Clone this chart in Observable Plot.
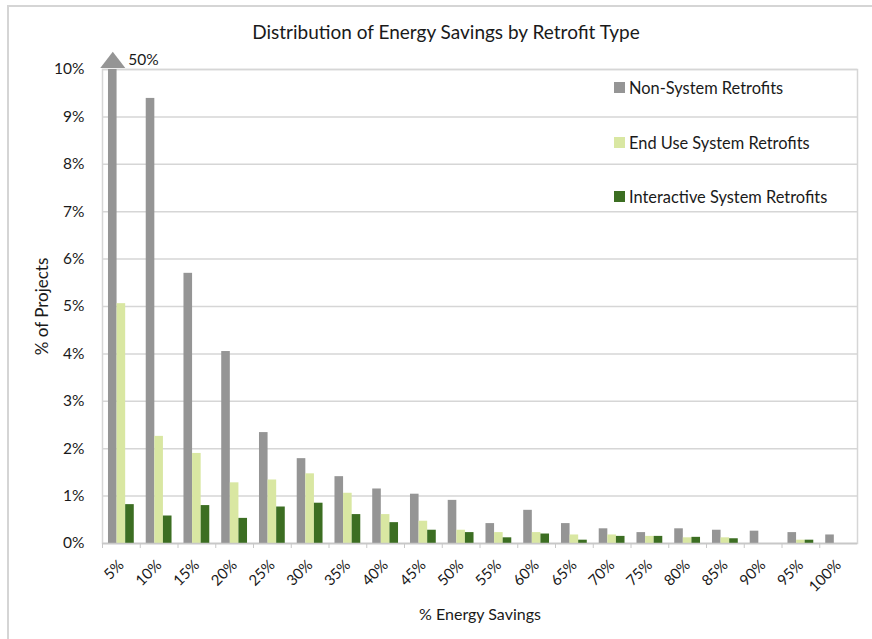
<!DOCTYPE html>
<html>
<head>
<meta charset="utf-8">
<script src="https://cdn.jsdelivr.net/npm/d3@7"></script>
<script src="https://cdn.jsdelivr.net/npm/@observablehq/plot@0.6"></script>
<style>
  html, body { margin: 0; padding: 0; background: #fff; }
  #wrap { position: relative; width: 872px; height: 639px; overflow: hidden; font-family: Lato, "Open Sans", sans-serif; color: #1a1a1a; }
  #border { position: absolute; left: 7px; top: 5px; width: 900px; height: 700px; border: 2px solid #d5d5d5; box-sizing: border-box; pointer-events: none; }
  #title { position: absolute; left: 0; top: 21px; width: 892px; text-align: center; font-size: 19px; line-height: 22px; }
  #chart { position: absolute; left: 0; top: 50px; }
  #legend { position: absolute; left: 614px; top: 0; font-size: 16.4px; }
  .item { position: absolute; left: 0; white-space: nowrap; display: flex; align-items: center; height: 20px; }
  .sw { width: 11px; height: 11px; margin-right: 4px; }
</style>
</head>
<body>
<div id="wrap">
  <div id="border"></div>
  <div id="title">Distribution of Energy Savings by Retrofit Type</div>
  <div id="chart"></div>
  <div id="legend"></div>
</div>
<script>
const categories = ["5%", "10%", "15%", "20%", "25%", "30%", "35%", "40%", "45%", "50%", "55%", "60%", "65%", "70%", "75%", "80%", "85%", "90%", "95%", "100%"];
const series = ["Non-System Retrofits", "End Use System Retrofits", "Interactive System Retrofits"];
const nonSystem   = [50, 9.39, 5.70, 4.05, 2.34, 1.79, 1.41, 1.15, 1.04, 0.91, 0.42, 0.70, 0.42, 0.31, 0.23, 0.31, 0.28, 0.26, 0.23, 0.18];
const endUse      = [5.06, 2.26, 1.90, 1.28, 1.34, 1.47, 1.06, 0.61, 0.47, 0.28, 0.23, 0.23, 0.18, 0.18, 0.15, 0.12, 0.12, 0, 0.07, 0];
const interactive = [0.82, 0.58, 0.80, 0.53, 0.77, 0.85, 0.61, 0.44, 0.28, 0.23, 0.12, 0.20, 0.07, 0.15, 0.15, 0.13, 0.10, 0, 0.07, 0];
const colors = ["#959595", "#d9e7a2", "#3c6e22"];
const yTicks = [0, 1, 2, 3, 4, 5, 6, 7, 8, 9, 10];
const yMax = 10;

const valuesBySeries = [nonSystem, endUse, interactive];
const rows = [];
series.forEach((s, i) => categories.forEach((c, j) => rows.push({cat: c, series: s, value: valuesBySeries[i][j]})));

// bar layout inside each category band (pixel style)
const barW = 8.6, step = 37.75, groupLeft = (step - 3 * barW) / 2;
const insets = series.map((s, i) => ({insetLeft: groupLeft + i * barW, insetRight: step - groupLeft - (i + 1) * barW}));
const grayCenterDx = groupLeft + barW / 2 - step / 2;

// arrow-head symbol (flat base at the anchor point)
const arrowHead = {
  draw(ctx, size) {
    const w = Math.sqrt(size / Math.PI);
    ctx.moveTo(-w, 0);
    ctx.lineTo(w, 0);
    ctx.lineTo(0, -w * 1.3);
    ctx.closePath();
  }
};

const overflow = rows.filter(d => d.value > yMax);

const font = "Lato, 'Open Sans', sans-serif";
const plot = Plot.plot({
  width: 872,
  height: 589,
  marginTop: 19,
  marginBottom: 96,
  marginLeft: 102,
  marginRight: 15,
  style: {fontFamily: font, fontSize: "15px", color: "#1a1a1a", background: "transparent", overflow: "visible"},
  x: {domain: categories, padding: 0, round: false},
  y: {domain: [0, yMax]},
  color: {domain: series, range: colors},
  marks: [
    Plot.gridY(yTicks, {stroke: "#d6d6d6", strokeOpacity: 1, strokeWidth: 1.5}),
    Plot.frame({stroke: "#d6d6d6", strokeWidth: 1.5}),
    ...series.map((s, i) => Plot.barY(rows.filter(d => d.series === s), {
      x: "cat", y: "value", fill: "series", clip: true, ...insets[i]
    })),
    Plot.dot(overflow, {x: "cat", y: () => yMax, fill: "series", symbol: arrowHead, r: 12.5, dx: grayCenterDx, dy: -1.5, stroke: null}),
    Plot.text(overflow, {x: "cat", y: () => yMax, text: d => d.value + "%", dx: grayCenterDx + 15.5, dy: -9, textAnchor: "start", fontSize: 15.5, fill: "#1a1a1a"}),
    Plot.ruleY([0], {stroke: "#c8c8c8", strokeWidth: 1.5}),
    Plot.axisX({ticks: categories, tickSize: 5, tickFormat: () => "", dx: -step / 2, stroke: "#c8c8c8", label: null}),
    Plot.axisX({ticks: categories, tickSize: 0, tickPadding: 19, tickRotate: -45, fontSize: 15, label: null}),
    Plot.axisX({ticks: [], tickSize: 0, fontSize: 16, label: "% Energy Savings", labelAnchor: "center", labelOffset: 76, labelArrow: "none"}),
    Plot.axisY(yTicks, {tickSize: 0, tickPadding: 18, tickFormat: d => d + "%", fontSize: 15.5, label: null}),
    Plot.axisY({ticks: [], tickSize: 0, fontSize: 17, label: "% of Projects", labelAnchor: "center", labelOffset: 67, labelArrow: "none"})
  ]
});
document.getElementById("chart").appendChild(plot);

const legend = document.getElementById("legend");
const legendTops = [77, 132, 186];
series.forEach((s, i) => {
  const item = document.createElement("div");
  item.className = "item";
  item.style.top = legendTops[i] + "px";
  const sw = document.createElement("span");
  sw.className = "sw";
  sw.style.background = colors[i];
  const t = document.createElement("span");
  t.textContent = s;
  item.appendChild(sw);
  item.appendChild(t);
  legend.appendChild(item);
});
</script>
</body>
</html>
